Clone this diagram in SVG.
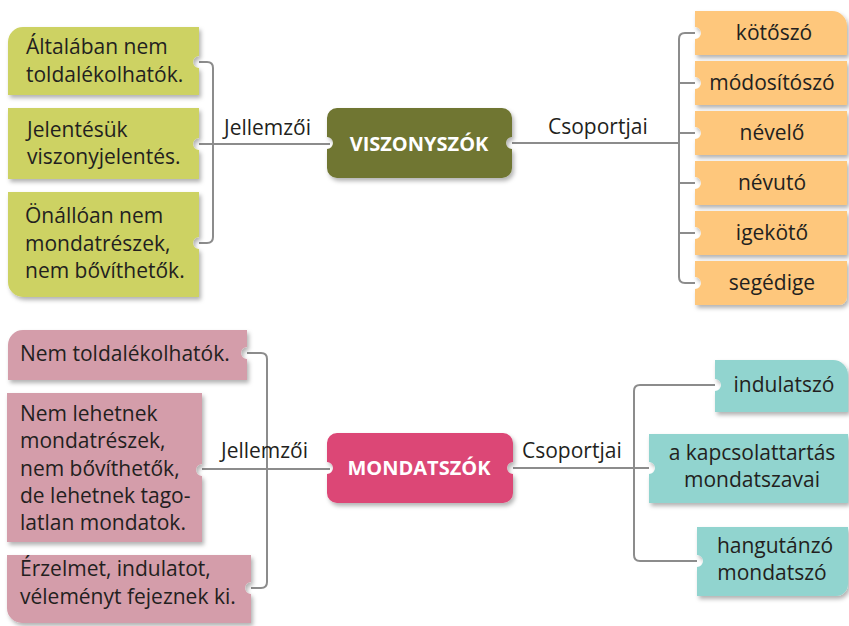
<svg xmlns="http://www.w3.org/2000/svg" width="849" height="626" viewBox="0 0 849 626">
<defs>
<filter id="sh" x="-10%" y="-10%" width="130%" height="140%">
<feDropShadow dx="2" dy="3" stdDeviation="2" flood-color="#000" flood-opacity="0.3"/>
</filter>
<style>
.t{font-family:"Open Sans","Liberation Sans",sans-serif;font-size:21px;fill:#231f20}
.c{text-anchor:middle}
.b{font-family:"Open Sans","Liberation Sans",sans-serif;font-size:20px;font-weight:bold;fill:#fff;text-anchor:middle}
.ln{fill:none;stroke:#8c8c8c;stroke-width:2}
.g{fill:#cdd264;filter:url(#sh)}
.o{fill:#fec77c;filter:url(#sh)}
.p{fill:#d49daa;filter:url(#sh)}
.q{fill:#91d4cf;filter:url(#sh)}
</style>
</defs>
<rect width="849" height="626" fill="#fff"/>
<g id="connectors">
<path class="ln" d="M199 62 H207 Q213 62 213 68 V237 Q213 243 207 243 H199"/>
<path class="ln" d="M199 144 H330"/>
<path class="ln" d="M695 33 H685 Q679 33 679 39 V277 Q679 283 685 283 H695"/>
<path class="ln" d="M679 83 H695 M679 133 H695 M679 183 H695 M679 233 H695"/>
<path class="ln" d="M512 143 H679"/>
<path class="ln" d="M247 353 H261 Q267 353 267 359 V582 Q267 588 261 588 H251"/>
<path class="ln" d="M202 469 H330"/>
<path class="ln" d="M715 385 H640 Q634 385 634 391 V555 Q634 561 640 561 H697"/>
<path class="ln" d="M513 468 H649"/>
<text class="t" x="224" y="135">Jellemzői</text>
<text class="t" x="548" y="134">Csoportjai</text>
<text class="t" x="221" y="458">Jellemzői</text>
<text class="t" x="522" y="458">Csoportjai</text>
</g>
<g id="n-altalaban">
<path class="g" d="M8 42 A15 15 0 0 1 23 27 H199 V56 A6 6 0 0 0 199 68 V95 H8 Z"/>
<text class="t" x="26" y="54">Általában nem</text>
<text class="t" x="26" y="82">toldalékolhatók.</text>
</g>
<g id="n-jelentesuk">
<path class="g" d="M8 108 H199 V138 A6 6 0 0 0 199 150 V179 H8 Z"/>
<text class="t" x="27" y="137">Jelentésük</text>
<text class="t" x="27" y="164">viszonyjelentés.</text>
</g>
<g id="n-onalloan">
<path class="g" d="M8 192 H199 V237 A6 6 0 0 0 199 249 V297 H23 A15 15 0 0 1 8 282 Z"/>
<text class="t" x="25" y="223">Önállóan nem</text>
<text class="t" x="25" y="251">mondatrészek,</text>
<text class="t" x="25" y="278">nem bővíthetők.</text>
</g>
<g id="n-viszonyszok">
<path fill="#6f7633" filter="url(#sh)" d="M337 108 H502 A10 10 0 0 1 512 118 V137 A6 6 0 0 0 512 149 V168 A10 10 0 0 1 502 178 H337 A10 10 0 0 1 327 168 V149 A6 6 0 0 0 327 137 V118 A10 10 0 0 1 337 108 Z"/>
<text class="b" x="419" y="151">VISZONYSZÓK</text>
</g>
<g id="n-kotoszo">
<path class="o" d="M695 11 H832 A15 15 0 0 1 847 26 V55 H695 V39 A6 6 0 0 0 695 27 Z"/>
<text class="t c" x="774" y="40">kötőszó</text>
</g>
<g id="n-modositoszo">
<path class="o" d="M695 61 H847 V105 H695 V89 A6 6 0 0 0 695 77 Z"/>
<text class="t c" x="772" y="90">módosítószó</text>
</g>
<g id="n-nevelo">
<path class="o" d="M695 111 H847 V155 H695 V139 A6 6 0 0 0 695 127 Z"/>
<text class="t c" x="772" y="140">névelő</text>
</g>
<g id="n-nevuto">
<path class="o" d="M695 161 H847 V205 H695 V189 A6 6 0 0 0 695 177 Z"/>
<text class="t c" x="772" y="190">névutó</text>
</g>
<g id="n-igekoto">
<path class="o" d="M695 211 H847 V255 H695 V239 A6 6 0 0 0 695 227 Z"/>
<text class="t c" x="772" y="240">igekötő</text>
</g>
<g id="n-segedige">
<path class="o" d="M695 261 H847 V297 A8 8 0 0 1 839 305 H695 V289 A6 6 0 0 0 695 277 Z"/>
<text class="t c" x="772" y="290">segédige</text>
</g>
<g id="n-nemtoldalek">
<path class="p" d="M8 345 A15 15 0 0 1 23 330 H247 V347 A6 6 0 0 0 247 359 V380 H8 Z"/>
<text class="t" x="20" y="361">Nem toldalékolhatók.</text>
</g>
<g id="n-nemlehetnek">
<path class="p" d="M7 393 H202 V464 A6 6 0 0 0 202 476 V542 H7 Z"/>
<text class="t" x="20" y="421">Nem lehetnek</text>
<text class="t" x="20" y="448">mondatrészek,</text>
<text class="t" x="20" y="476">nem bővíthetők,</text>
<text class="t" x="20" y="503">de lehetnek tago-</text>
<text class="t" x="20" y="530">latlan mondatok.</text>
</g>
<g id="n-erzelmet">
<path class="p" d="M7 555 H251 V582 A6 6 0 0 0 251 594 V623 H22 A15 15 0 0 1 7 608 Z"/>
<text class="t" x="20" y="576">Érzelmet, indulatot,</text>
<text class="t" x="20" y="604">véleményt fejeznek ki.</text>
</g>
<g id="n-mondatszok">
<path fill="#dc4676" filter="url(#sh)" d="M337 433 H503 A10 10 0 0 1 513 443 V462 A6 6 0 0 0 513 474 V493 A10 10 0 0 1 503 503 H337 A10 10 0 0 1 327 493 V474 A6 6 0 0 0 327 462 V443 A10 10 0 0 1 337 433 Z"/>
<text class="b" x="419" y="475">MONDATSZÓK</text>
</g>
<g id="n-indulatszo">
<path class="q" d="M715 360 H833 A15 15 0 0 1 848 375 V412 H715 V391 A6 6 0 0 0 715 379 Z"/>
<text class="t c" x="784" y="392">indulatszó</text>
</g>
<g id="n-kapcsolattartas">
<path class="q" d="M649 434 H848 V503 H649 V474 A6 6 0 0 0 649 462 Z"/>
<text class="t c" x="752" y="460">a kapcsolattartás</text>
<text class="t c" x="752" y="487">mondatszavai</text>
</g>
<g id="n-hangutanzo">
<path class="q" d="M697 527 H848 V584 A12 12 0 0 1 836 596 H697 V567 A6 6 0 0 0 697 555 Z"/>
<text class="t c" x="775" y="553">hangutánzó</text>
<text class="t c" x="772" y="580">mondatszó</text>
</g>
</svg>
